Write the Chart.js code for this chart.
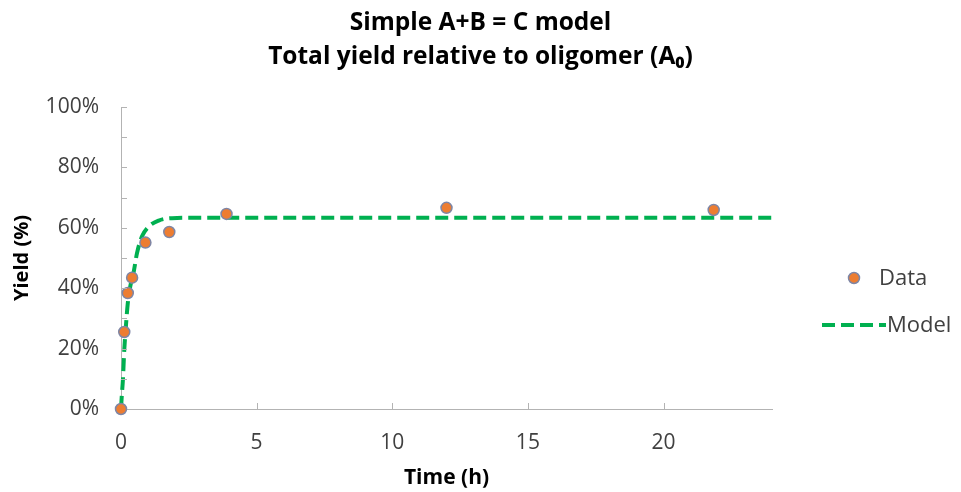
<!DOCTYPE html>
<html lang="en">
<head>
  <meta charset="UTF-8" />
  <title>Simple A+B = C model</title>
  <script src="https://cdn.jsdelivr.net/npm/chart.js"></script>
  <style>
    html, body { margin: 0; padding: 0; background: #fff; }
    #wrap { width: 961px; height: 492px; }
  </style>
</head>
<body>
  <div id="wrap"><canvas id="yieldChart"></canvas></div>

  <script>
    // measured samples (h, %)
    const dataTime  = [0, 0.12, 0.25, 0.41, 0.9, 1.78, 3.89, 12.0, 21.85];
    const dataYield = [0, 25.5, 38.4, 43.5, 55.1, 58.6, 64.6, 66.6, 65.9];

    // fitted model curve (h, %)
    const modelTime  = [0, 0.03, 0.07, 0.12, 0.18, 0.25, 0.34, 0.47, 0.59, 0.77, 1.02, 1.39, 1.88, 2.5, 5, 10, 15, 20, 24];
    const modelYield = [0, 4.5, 9.6, 19.5, 27.3, 35.0, 40.5, 45.5, 51.6, 57.1, 60.4, 62.4, 63.2, 63.3, 63.3, 63.3, 63.3, 63.3, 63.3];

    const xTicks = [0, 5, 10, 15, 20];
    const yTicks = [0, 20, 40, 60, 80, 100];

    const FONT = "'Open Sans', 'Liberation Sans', sans-serif";
    const AXIS_COLOR = '#B3B3B3';
    const TEXT_COLOR = '#404040';
    const ORANGE = '#ED7D31';
    const MARKER_EDGE = '#7E86A6';
    const GREEN = '#00B050';

    const toPoints = (xs, ys) => xs.map((x, i) => ({ x: x, y: ys[i] }));

    // short tick marks pointing into the plot area
    const innerTicks = {
      id: 'innerTicks',
      afterDatasetsDraw(chart) {
        const { ctx, scales: { x, y } } = chart;
        ctx.save();
        ctx.strokeStyle = AXIS_COLOR;
        ctx.lineWidth = 1;
        ctx.beginPath();
        for (let v = 10; v <= 100; v += 10) {
          const py = Math.round(y.getPixelForValue(v)) + 0.5;
          ctx.moveTo(x.left, py);
          ctx.lineTo(x.left + 6, py);
        }
        xTicks.forEach(v => {
          if (v === 0) return;
          const px = Math.round(x.getPixelForValue(v)) + 0.5;
          ctx.moveTo(px, y.bottom);
          ctx.lineTo(px, y.bottom - 6);
        });
        ctx.stroke();
        ctx.restore();
      }
    };

    // legend on the right side
    const sideLegend = {
      id: 'sideLegend',
      afterDraw(chart) {
        const ctx = chart.ctx;
        ctx.save();
        ctx.font = `22px ${FONT}`;
        ctx.textBaseline = 'middle';

        ctx.beginPath();
        ctx.arc(854, 278, 5.5, 0, Math.PI * 2);
        ctx.fillStyle = ORANGE;
        ctx.fill();
        ctx.lineWidth = 1.5;
        ctx.strokeStyle = MARKER_EDGE;
        ctx.stroke();
        ctx.fillStyle = TEXT_COLOR;
        ctx.fillText('Data', 879, 279);

        ctx.beginPath();
        ctx.setLineDash([13, 6]);
        ctx.lineWidth = 4;
        ctx.strokeStyle = GREEN;
        ctx.moveTo(822, 325);
        ctx.lineTo(886, 325);
        ctx.stroke();
        ctx.setLineDash([]);
        ctx.fillText('Model', 887, 326);
        ctx.restore();
      }
    };

    new Chart(document.getElementById('yieldChart'), {
      type: 'scatter',
      data: {
        datasets: [
          {
            label: 'Data',
            data: toPoints(dataTime, dataYield),
            showLine: false,
            clip: false,
            pointRadius: 5.5,
            pointBackgroundColor: ORANGE,
            pointBorderColor: MARKER_EDGE,
            pointBorderWidth: 1.5
          },
          {
            label: 'Model',
            data: toPoints(modelTime, modelYield),
            showLine: true,
            clip: false,
            pointRadius: 0,
            borderColor: GREEN,
            borderWidth: 4,
            borderDash: [13, 6],
            cubicInterpolationMode: 'monotone',
            fill: false
          }
        ]
      },
      options: {
        responsive: true,
        maintainAspectRatio: false,
        animation: false,
        events: [],
        plugins: {
          legend: { display: false },
          tooltip: { enabled: false },
          title: {
            display: true,
            text: ['Simple A+B = C model', 'Total yield relative to oligomer (A\u2080)'],
            color: '#000',
            font: { family: FONT, size: 24.5, weight: 'bold', lineHeight: 34 / 24.5 },
            padding: { top: 6, bottom: 33 }
          }
        },
        scales: {
          x: {
            type: 'linear',
            min: 0,
            max: 24,
            border: { color: AXIS_COLOR, width: 1 },
            grid: { display: false, drawTicks: false },
            afterBuildTicks(scale) {
              scale.ticks = xTicks.map(v => ({ value: v }));
            },
            afterFit(scale) { scale.height = 83; },
            ticks: {
              color: TEXT_COLOR,
              font: { family: FONT, size: 21 },
              padding: 21,
              maxRotation: 0
            },
            title: {
              display: true,
              text: 'Time (h)',
              color: '#000',
              font: { family: FONT, size: 21, weight: 'bold', lineHeight: 1.2 },
              padding: { top: 0, bottom: 1 }
            }
          },
          y: {
            min: 0,
            max: 100,
            border: { color: AXIS_COLOR, width: 1 },
            grid: { display: false, drawTicks: false },
            afterBuildTicks(scale) {
              scale.ticks = yTicks.map(v => ({ value: v }));
            },
            afterFit(scale) { scale.width = 121; },
            ticks: {
              color: TEXT_COLOR,
              font: { family: FONT, size: 21 },
              padding: 22,
              callback: v => v + '%'
            },
            title: {
              display: true,
              text: 'Yield (%)',
              color: '#000',
              font: { family: FONT, size: 20, weight: 'bold', lineHeight: 1.2 },
              padding: { top: 10, bottom: 0 }
            }
          },
          // empty right-hand axis that reserves room for the legend
          legendSpace: {
            type: 'linear',
            position: 'right',
            min: 0,
            max: 1,
            border: { display: false },
            grid: { display: false, drawTicks: false },
            ticks: { display: false },
            afterFit(scale) { scale.width = 189; }
          }
        }
      },
      plugins: [innerTicks, sideLegend]
    });
  </script>
</body>
</html>
